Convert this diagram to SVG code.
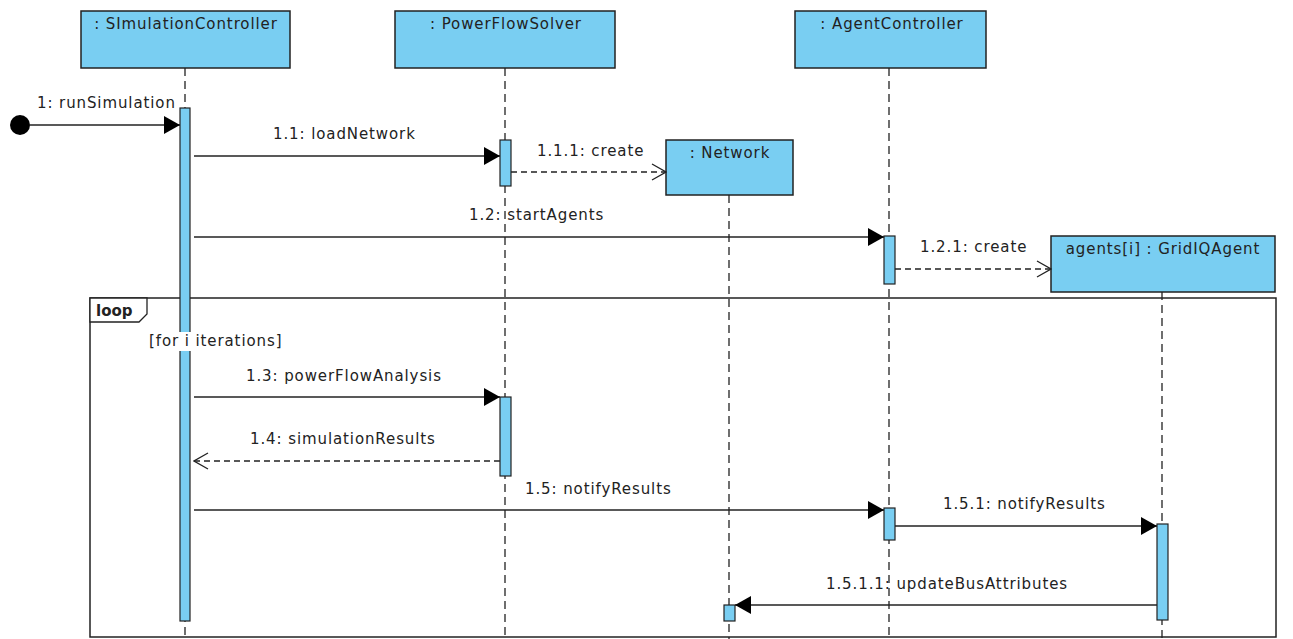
<svg xmlns="http://www.w3.org/2000/svg" width="1293" height="639" viewBox="0 0 1293 639">
<defs>
<style>
text{font-family:"DejaVu Sans","Liberation Sans",Arial,sans-serif;font-size:15px;letter-spacing:0.9px;fill:#222;}
.box{fill:#79CEF2;stroke:#222;stroke-width:1.5;}
.bar{fill:#79CEF2;stroke:#222;stroke-width:1.2;}
.life{stroke:#222;stroke-width:1.3;stroke-dasharray:8,5;fill:none;}
.msg{stroke:#222;stroke-width:1.3;fill:none;}
.ret{stroke:#222;stroke-width:1.3;fill:none;stroke-dasharray:6,4;}
.mid{text-anchor:middle;}
</style>
<marker id="filled" viewBox="0 0 16 18" refX="16" refY="9" markerWidth="16" markerHeight="18" markerUnits="userSpaceOnUse" orient="auto">
<path d="M0,0 L16,9 L0,18 Z" fill="#000"/>
</marker>
<marker id="open" viewBox="0 0 16 18" refX="15" refY="9" markerWidth="16" markerHeight="18" markerUnits="userSpaceOnUse" orient="auto">
<path d="M1,1 L15,9 L1,17" fill="none" stroke="#222" stroke-width="1.3"/>
</marker>
</defs>
<rect width="1293" height="639" fill="#fff"/>

<g id="lifelines">
<line class="life" x1="185" y1="68" x2="185" y2="639"/>
<line class="life" x1="505" y1="68" x2="505" y2="639"/>
<line class="life" x1="889" y1="68" x2="889" y2="639"/>
<line class="life" x1="729" y1="195" x2="729" y2="639"/>
<line class="life" x1="1162" y1="292" x2="1162" y2="639"/>
</g>

<g id="loop-frame">
<rect x="90" y="298" width="1186" height="339" fill="none" stroke="#222" stroke-width="1.5"/>
<polygon points="90,298 147,298 147,314 139,322 90,322" fill="#fff" stroke="#222" stroke-width="1.3"/>
<text x="96" y="316" style="font-weight:bold;letter-spacing:0">loop</text>
</g>

<g id="node-simulationcontroller">
<rect class="box" x="81" y="11" width="209" height="57"/>
<text class="mid" x="186" y="29">: SImulationController</text>
<rect class="bar" x="180" y="108" width="10" height="513"/>
</g>
<g id="node-powerflowsolver">
<rect class="box" x="395" y="11" width="220" height="57"/>
<text class="mid" x="506" y="29">: PowerFlowSolver</text>
<rect class="bar" x="500" y="140" width="11" height="46"/>
<rect class="bar" x="500" y="397" width="11" height="79"/>
</g>
<g id="node-agentcontroller">
<rect class="box" x="795" y="11" width="191" height="57"/>
<text class="mid" x="892" y="29">: AgentController</text>
<rect class="bar" x="884" y="236" width="11" height="48"/>
<rect class="bar" x="884" y="508" width="11" height="32"/>
</g>
<g id="node-network">
<rect class="box" x="666" y="140" width="127" height="55"/>
<text class="mid" x="730" y="158">: Network</text>
<rect class="bar" x="724" y="605" width="11" height="16"/>
</g>
<g id="node-gridiqagent">
<rect class="box" x="1051" y="236" width="224" height="56"/>
<text class="mid" x="1163" y="254">agents[i] : GridIQAgent</text>
<rect class="bar" x="1157" y="524" width="11" height="96"/>
</g>

<g id="guard">
<rect x="147" y="332" width="137" height="19" fill="#fff"/>
<text x="149" y="346">[for i iterations]</text>
</g>

<g id="connectors">
<circle cx="20" cy="125" r="10" fill="#000"/>
<line class="msg" x1="30" y1="125" x2="180" y2="125" marker-end="url(#filled)"/>
<text x="37" y="108">1: runSimulation</text>

<line class="msg" x1="194" y1="156" x2="500" y2="156" marker-end="url(#filled)"/>
<text x="273" y="139">1.1: loadNetwork</text>

<line class="ret" x1="511" y1="172" x2="666" y2="172" marker-end="url(#open)"/>
<text x="537" y="156">1.1.1: create</text>

<line class="msg" x1="194" y1="237" x2="884" y2="237" marker-end="url(#filled)"/>
<text x="469" y="220">1.2: startAgents</text>

<line class="ret" x1="895" y1="269" x2="1051" y2="269" marker-end="url(#open)"/>
<text x="920" y="252">1.2.1: create</text>

<line class="msg" x1="194" y1="397" x2="500" y2="397" marker-end="url(#filled)"/>
<text x="246" y="381">1.3: powerFlowAnalysis</text>

<line class="ret" x1="500" y1="461" x2="194" y2="461" marker-end="url(#open)"/>
<text x="250" y="444">1.4: simulationResults</text>

<line class="msg" x1="194" y1="510" x2="884" y2="510" marker-end="url(#filled)"/>
<text x="525" y="494">1.5: notifyResults</text>

<line class="msg" x1="895" y1="526" x2="1157" y2="526" marker-end="url(#filled)"/>
<text x="943" y="509">1.5.1: notifyResults</text>

<line class="msg" x1="1157" y1="605" x2="735" y2="605" marker-end="url(#filled)"/>
<text x="826" y="589">1.5.1.1: updateBusAttributes</text>
</g>
</svg>
